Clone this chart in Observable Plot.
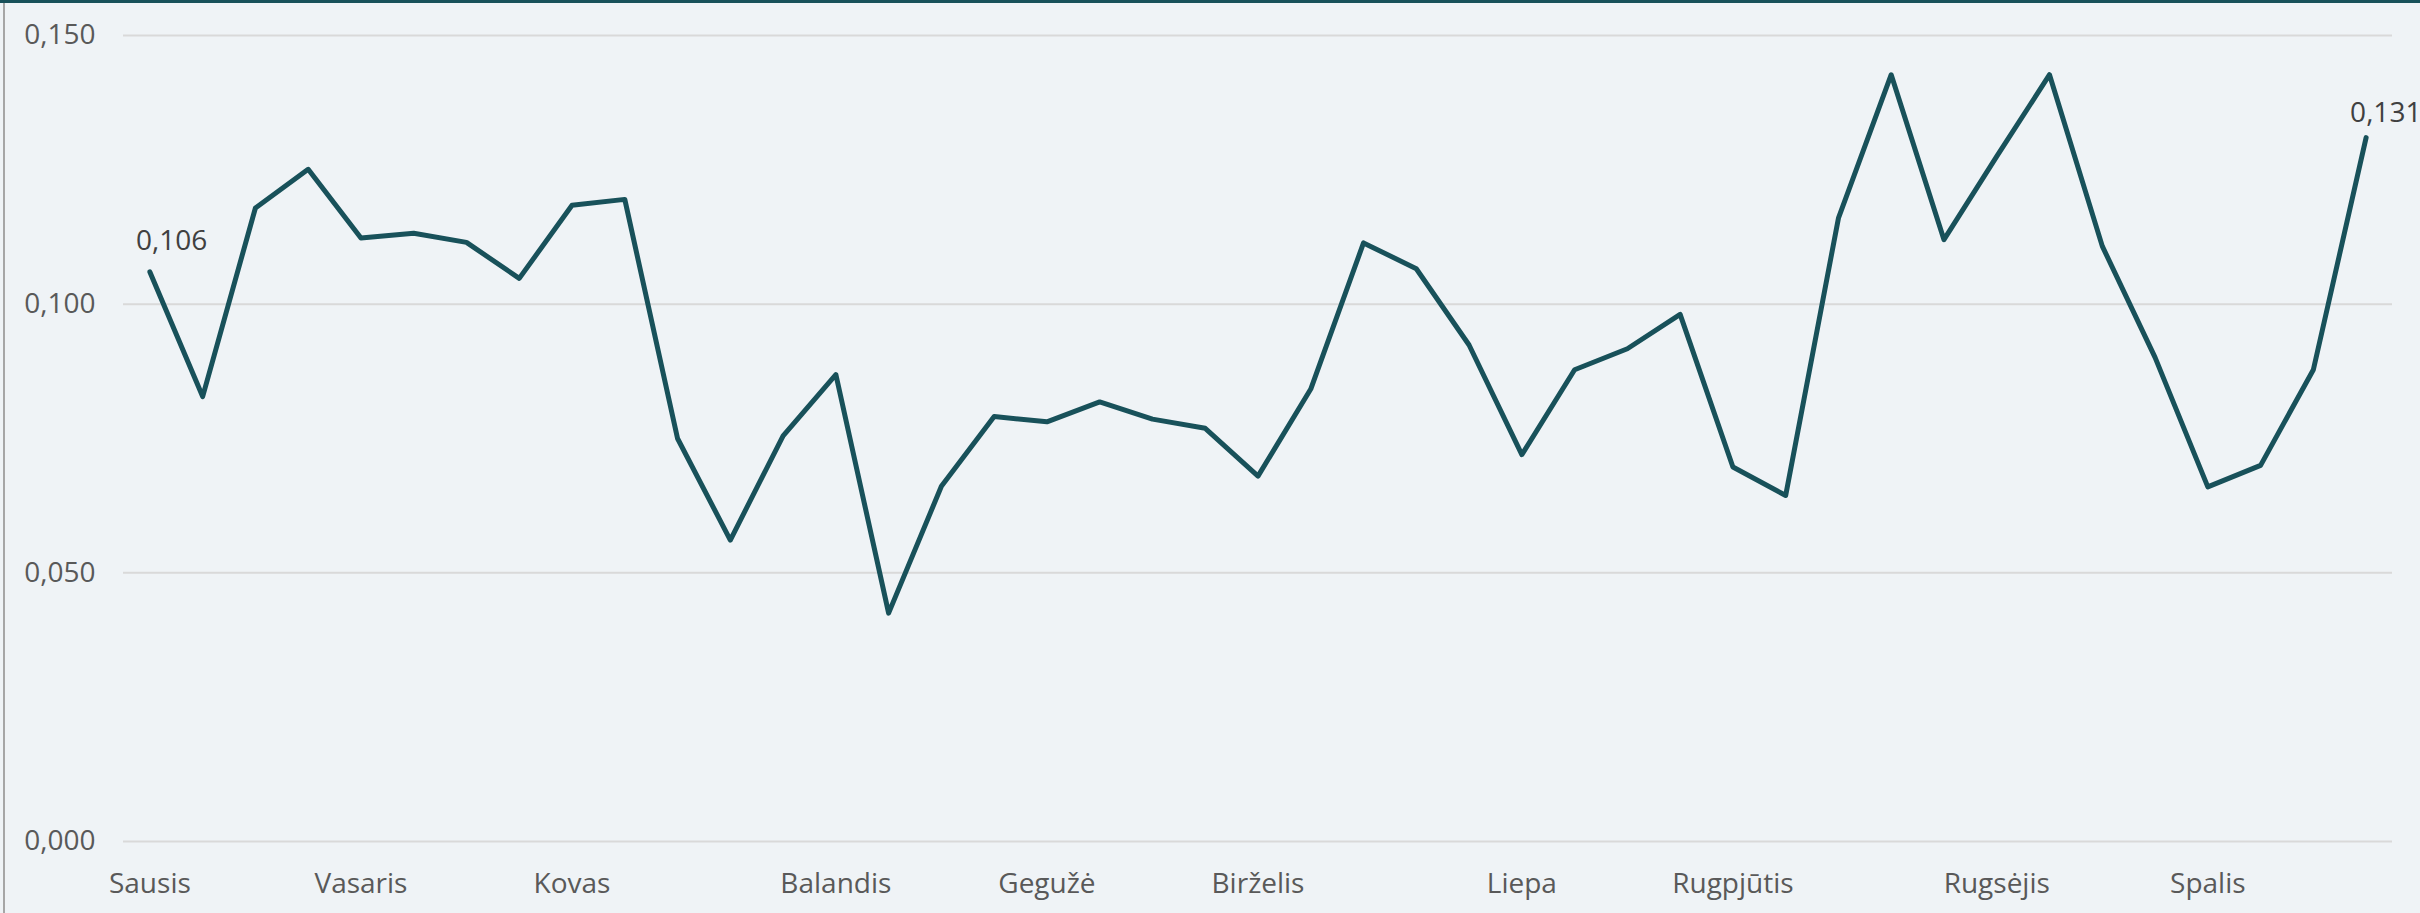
<!DOCTYPE html>
<html>
<head>
<meta charset="utf-8">
<script src="https://cdn.jsdelivr.net/npm/d3@7"></script>
<script src="https://cdn.jsdelivr.net/npm/@observablehq/plot@0.6"></script>
<style>
  html, body { margin: 0; padding: 0; background: #eff3f6; }
  #wrap { position: relative; width: 2420px; height: 913px; overflow: hidden; }
  #topbar { position: absolute; left: 0; top: 0; width: 2420px; height: 3px; background: #18515a; }
  #leftbar { position: absolute; left: 3px; top: 3px; width: 1.5px; height: 910px; background: #a6a6a6; }
</style>
</head>
<body>
<div id="wrap"><div id="chart"></div><div id="topbar"></div><div id="leftbar"></div></div>
<script>
// Week numbers (categories)
const weeks = [1,2,3,4,5,6,7,8,9,10,11,12,13,14,15,16,17,18,19,20,21,22,23,24,25,26,27,28,29,30,31,32,33,34,35,36,37,38,39,40,41,42,43];
// Series values
const values = [
  0.106, 0.0828, 0.1179, 0.1251, 0.1123, 0.1132, 0.1115, 0.1048, 0.1184, 0.1195,
  0.0750, 0.0561, 0.0755, 0.0869, 0.0425, 0.0661, 0.0791, 0.0781, 0.0818, 0.0786,
  0.0769, 0.0680, 0.0842, 0.1114, 0.1066, 0.0924, 0.0720, 0.0878, 0.0917, 0.0981,
  0.0697, 0.0644, 0.1160, 0.1427, 0.1120, 0.1275, 0.1427, 0.1108, 0.0901, 0.0660,
  0.0700, 0.0878, 0.1310
];
// Month tick labels at their first week
const monthWeeks = [1, 5, 9, 14, 18, 22, 27, 31, 36, 40];
const monthNames = ["Sausis", "Vasaris", "Kovas", "Balandis", "Gegužė", "Birželis", "Liepa", "Rugpjūtis", "Rugsėjis", "Spalis"];
// Y ticks
const yTicks = [0, 0.05, 0.10, 0.15];
// Labelled points
const labelWeeksFirst = [1];
const labelWeeksLast = [43];

const data = weeks.map((w, i) => ({week: w, value: values[i]}));
const monthByWeek = new Map(monthWeeks.map((w, i) => [w, monthNames[i]]));
const fmt = v => d3.format(".3f")(v).replace(".", ",");
const firstLbl = data.filter(d => labelWeeksFirst.includes(d.week));
const lastLbl = data.filter(d => labelWeeksLast.includes(d.week));

const chart = Plot.plot({
  width: 2420,
  height: 913,
  marginLeft: 123,
  marginRight: 28,
  marginTop: 35,
  marginBottom: 72,
  style: {background: "#eff3f6", fontFamily: "'Open Sans', sans-serif", fontSize: "28px", color: "#595959", overflow: "visible"},
  x: {type: "point", domain: weeks, padding: 0.5},
  y: {domain: [0, 0.15]},
  marks: [
    Plot.gridY(yTicks, {stroke: "#d9d9d9", strokeOpacity: 1, strokeWidth: 2}),
    Plot.axisY({ticks: yTicks, tickFormat: fmt, tickSize: 0, tickPadding: 28, label: null, fill: "#595959"}),
    Plot.axisX({ticks: monthWeeks, tickFormat: w => monthByWeek.get(w), tickSize: 0, tickPadding: 32, label: null, fill: "#595959"}),
    Plot.line(data, {x: "week", y: "value", stroke: "#18515a", strokeWidth: 5, strokeLinejoin: "round", strokeLinecap: "round"}),
    Plot.text(firstLbl, {x: "week", y: "value", text: d => fmt(d.value), textAnchor: "start", lineAnchor: "bottom", dx: -14, dy: -22, fill: "#404040", fontSize: 28}),
    Plot.text(lastLbl, {x: "week", y: "value", text: d => fmt(d.value), textAnchor: "start", lineAnchor: "bottom", dx: -16, dy: -16, fill: "#404040", fontSize: 28})
  ]
});
document.getElementById("chart").appendChild(chart);
</script>
</body>
</html>
